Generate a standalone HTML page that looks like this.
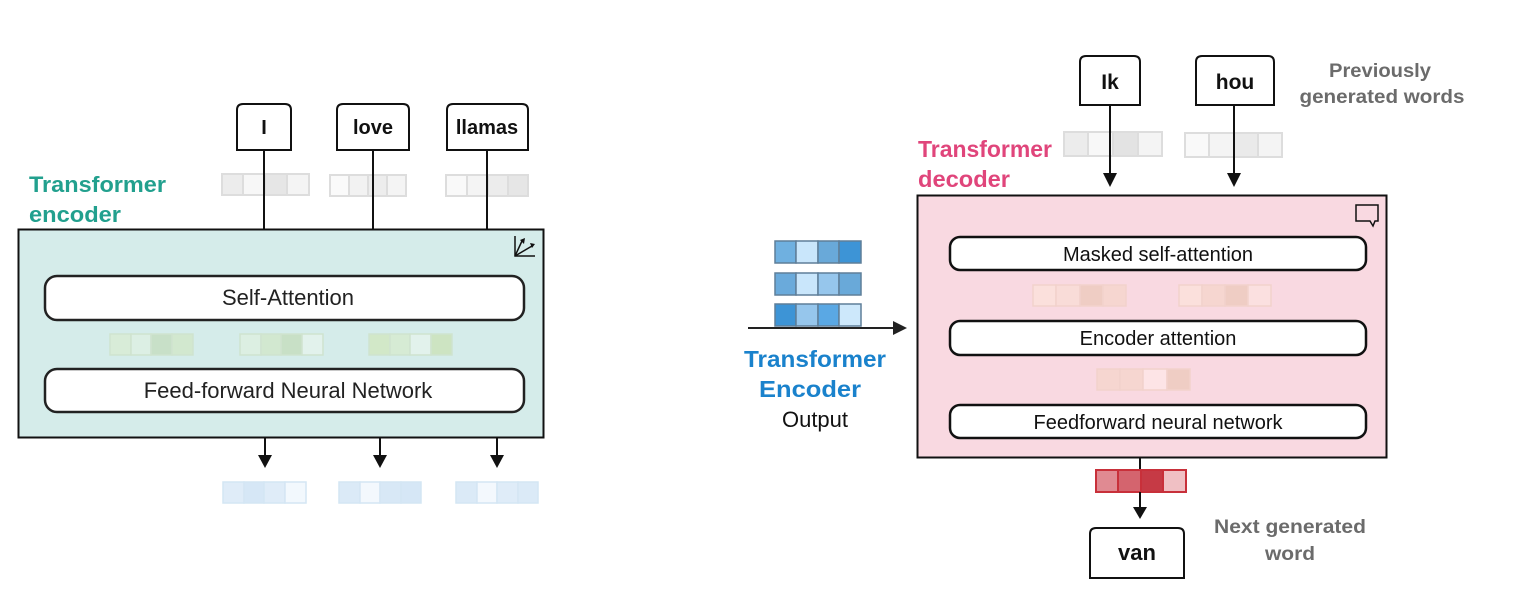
<!DOCTYPE html>
<html><head><meta charset="utf-8"><style>
html,body{margin:0;padding:0;background:#fff;}
svg{display:block;font-family:"Liberation Sans",sans-serif;}
</style></head><body>
<svg width="1514" height="614" viewBox="0 0 1514 614" xmlns="http://www.w3.org/2000/svg">

<!-- ENCODER -->
<rect x="18.5" y="229.5" width="525" height="208" fill="#d5ecea" stroke="#111" stroke-width="2"/>
<g stroke="#111" stroke-width="1.5" fill="none">
<path d="M515,236 L515,256 L535,256"/>
<path d="M515,256 L522,241"/><path d="M515,256 L532,246"/>
</g>
<path d="M520,240 L525,238 L524,244z M530,243 L535,244 L532,248z" fill="#111"/>

<g stroke="#ddd" stroke-width="2">
<rect x="222" y="174" width="21" height="21" fill="#ececec"/><rect x="243" y="174" width="22" height="21" fill="#f7f7f7"/><rect x="265" y="174" width="22" height="21" fill="#e6e6e6"/><rect x="287" y="174" width="22" height="21" fill="#f4f4f4"/>
<rect x="330" y="175" width="19" height="21" fill="#fafafa"/><rect x="349" y="175" width="19" height="21" fill="#f2f2f2"/><rect x="368" y="175" width="19" height="21" fill="#ededed"/><rect x="387" y="175" width="19" height="21" fill="#f4f4f4"/>
<rect x="446" y="175" width="21" height="21" fill="#f9f9f9"/><rect x="467" y="175" width="21" height="21" fill="#f4f4f4"/><rect x="488" y="175" width="20" height="21" fill="#ececec"/><rect x="508" y="175" width="20" height="21" fill="#e6e6e6"/>
</g>
<g stroke="#111" stroke-width="2">
<line x1="264" y1="150" x2="264" y2="229"/>
<line x1="373" y1="150" x2="373" y2="229"/>
<line x1="487" y1="150" x2="487" y2="229"/>
</g>
<g fill="#fff" stroke="#111" stroke-width="2">
<path d="M237,150 V110 Q237,104 243,104 H285 Q291,104 291,110 V150 Z"/>
<path d="M337,150 V110 Q337,104 343,104 H403 Q409,104 409,110 V150 Z"/>
<path d="M447,150 V110 Q447,104 453,104 H522 Q528,104 528,110 V150 Z"/>
</g>
<g font-size="20" font-weight="bold" fill="#111" text-anchor="middle">
<text x="264" y="134">I</text>
<text x="373" y="134">love</text>
<text x="487" y="134">llamas</text>
</g>
<g font-size="22" font-weight="bold" fill="#22a08e">
<text x="29" y="192" textLength="137" lengthAdjust="spacingAndGlyphs">Transformer</text>
<text x="29" y="222" textLength="92" lengthAdjust="spacingAndGlyphs">encoder</text>
</g>
<rect x="45" y="276" width="479" height="44" rx="12" fill="#fff" stroke="#222" stroke-width="2.5"/>
<text x="288" y="305" font-size="22" text-anchor="middle" fill="#222">Self-Attention</text>
<rect x="45" y="369" width="479" height="43" rx="12" fill="#fff" stroke="#222" stroke-width="2.5"/>
<text x="288" y="398" font-size="22" text-anchor="middle" fill="#222">Feed-forward Neural Network</text>
<g stroke="#cfe3cf" stroke-width="1.5">
<rect x="110" y="334" width="21" height="21" fill="#d8ecd8"/><rect x="131" y="334" width="20" height="21" fill="#dcefe4"/><rect x="151" y="334" width="21" height="21" fill="#c8e0c8"/><rect x="172" y="334" width="21" height="21" fill="#d2e8cf"/>
<rect x="240" y="334" width="21" height="21" fill="#dcefe2"/><rect x="261" y="334" width="20" height="21" fill="#d2e8d0"/><rect x="281" y="334" width="21" height="21" fill="#c8e0c6"/><rect x="302" y="334" width="21" height="21" fill="#e2f2ec"/>
<rect x="369" y="334" width="21" height="21" fill="#d2e8c8"/><rect x="390" y="334" width="20" height="21" fill="#d6ebd4"/><rect x="410" y="334" width="21" height="21" fill="#e2f2ec"/><rect x="431" y="334" width="21" height="21" fill="#cde4c2"/>
</g>
<g stroke="#111" stroke-width="2">
<line x1="265" y1="437" x2="265" y2="458"/>
<line x1="380" y1="437" x2="380" y2="458"/>
<line x1="497" y1="437" x2="497" y2="458"/>
</g>
<g fill="#111">
<path d="M258,455 L272,455 L265,468z"/><path d="M373,455 L387,455 L380,468z"/><path d="M490,455 L504,455 L497,468z"/>
</g>
<g stroke="#d4e6f4" stroke-width="1.5">
<rect x="223" y="482" width="21" height="21" fill="#dfecf8"/><rect x="244" y="482" width="20" height="21" fill="#d6e7f6"/><rect x="264" y="482" width="21" height="21" fill="#dfecf8"/><rect x="285" y="482" width="21" height="21" fill="#f2f8fd"/>
<rect x="339" y="482" width="21" height="21" fill="#dbeaf7"/><rect x="360" y="482" width="20" height="21" fill="#f3f8fd"/><rect x="380" y="482" width="21" height="21" fill="#d8e8f6"/><rect x="401" y="482" width="20" height="21" fill="#d6e7f6"/>
<rect x="456" y="482" width="21" height="21" fill="#dbeaf7"/><rect x="477" y="482" width="20" height="21" fill="#f3f8fd"/><rect x="497" y="482" width="21" height="21" fill="#dfecf8"/><rect x="518" y="482" width="20" height="21" fill="#dbeaf7"/>
</g>

<!-- LEFT INPUT -->
<g stroke="#5f7f99" stroke-width="1.5">
<rect x="775" y="241" width="21" height="22" fill="#6fb0e0"/><rect x="796" y="241" width="22" height="22" fill="#c9e6fb"/><rect x="818" y="241" width="21" height="22" fill="#69a9d9"/><rect x="839" y="241" width="22" height="22" fill="#3d94d6"/>
<rect x="775" y="273" width="21" height="22" fill="#6aaadb"/><rect x="796" y="273" width="22" height="22" fill="#c9e6fb"/><rect x="818" y="273" width="21" height="22" fill="#96c6ec"/><rect x="839" y="273" width="22" height="22" fill="#69a9d9"/>
<rect x="775" y="304" width="21" height="22" fill="#3d94d6"/><rect x="796" y="304" width="22" height="22" fill="#96c6ec"/><rect x="818" y="304" width="21" height="22" fill="#5aa8e4"/><rect x="839" y="304" width="22" height="22" fill="#cde8fb"/>
</g>
<line x1="748" y1="328" x2="895" y2="328" stroke="#222" stroke-width="2"/>
<path d="M893,321 L907,328 L893,335z" fill="#222"/>
<g font-size="23" font-weight="bold" fill="#1a82cc" text-anchor="middle">
<text x="815" y="367" textLength="142" lengthAdjust="spacingAndGlyphs">Transformer</text>
<text x="810" y="397" textLength="102" lengthAdjust="spacingAndGlyphs">Encoder</text>
</g>
<text x="815" y="427" font-size="22" fill="#111" text-anchor="middle">Output</text>

<!-- DECODER -->
<rect x="917.5" y="195.5" width="469" height="262" fill="#f9d9e1" stroke="#111" stroke-width="2"/>
<path d="M1356,205 H1378 V221 H1375 L1373,226 L1370,221 H1356 Z" fill="none" stroke="#111" stroke-width="1.5"/>
<g font-size="23" font-weight="bold" fill="#e0457b">
<text x="918" y="157" textLength="134" lengthAdjust="spacingAndGlyphs">Transformer</text>
<text x="918" y="187" textLength="92" lengthAdjust="spacingAndGlyphs">decoder</text>
</g>
<g stroke="#ddd" stroke-width="2">
<rect x="1064" y="132" width="24" height="24" fill="#ececec"/><rect x="1088" y="132" width="25" height="24" fill="#f8f8f8"/><rect x="1113" y="132" width="25" height="24" fill="#e3e3e3"/><rect x="1138" y="132" width="24" height="24" fill="#f4f4f4"/>
<rect x="1185" y="133" width="24" height="24" fill="#f9f9f9"/><rect x="1209" y="133" width="25" height="24" fill="#f4f4f4"/><rect x="1234" y="133" width="24" height="24" fill="#eaeaea"/><rect x="1258" y="133" width="24" height="24" fill="#f4f4f4"/>
</g>
<g stroke="#111" stroke-width="2">
<line x1="1110" y1="105" x2="1110" y2="176"/>
<line x1="1234" y1="105" x2="1234" y2="176"/>
</g>
<path d="M1103,173 L1117,173 L1110,187z M1227,173 L1241,173 L1234,187z" fill="#111"/>
<g fill="#fff" stroke="#111" stroke-width="2">
<path d="M1080,105 V62 Q1080,56 1086,56 H1134 Q1140,56 1140,62 V105 Z"/>
<path d="M1196,105 V62 Q1196,56 1202,56 H1268 Q1274,56 1274,62 V105 Z"/>
</g>
<g font-size="21" font-weight="bold" fill="#111" text-anchor="middle">
<text x="1110" y="89">Ik</text>
<text x="1235" y="89">hou</text>
</g>
<g font-size="19" font-weight="bold" fill="#6b6b6b" text-anchor="middle">
<text x="1380" y="77" textLength="102" lengthAdjust="spacingAndGlyphs">Previously</text>
<text x="1382" y="103" textLength="165" lengthAdjust="spacingAndGlyphs">generated words</text>
<text x="1290" y="533" textLength="152" lengthAdjust="spacingAndGlyphs">Next generated</text>
<text x="1290" y="560" textLength="50" lengthAdjust="spacingAndGlyphs">word</text>
</g>
<rect x="950" y="237" width="416" height="33" rx="10" fill="#fff" stroke="#111" stroke-width="2.5"/>
<text x="1158" y="261" font-size="20" text-anchor="middle" fill="#111">Masked self-attention</text>
<rect x="950" y="321" width="416" height="34" rx="10" fill="#fff" stroke="#111" stroke-width="2.5"/>
<text x="1158" y="345" font-size="20" text-anchor="middle" fill="#111">Encoder attention</text>
<rect x="950" y="405" width="416" height="33" rx="10" fill="#fff" stroke="#111" stroke-width="2.5"/>
<text x="1158" y="429" font-size="20" text-anchor="middle" fill="#111">Feedforward neural network</text>
<g stroke="#f2d2cc" stroke-width="1.5">
<rect x="1033" y="285" width="23" height="21" fill="#fbe0dc"/><rect x="1056" y="285" width="24" height="21" fill="#f9dcd8"/><rect x="1080" y="285" width="23" height="21" fill="#efcdc4"/><rect x="1103" y="285" width="23" height="21" fill="#f6d6d0"/>
<rect x="1179" y="285" width="23" height="21" fill="#fbe0dc"/><rect x="1202" y="285" width="23" height="21" fill="#f6d6d0"/><rect x="1225" y="285" width="23" height="21" fill="#efcdc4"/><rect x="1248" y="285" width="23" height="21" fill="#fbe0e0"/>
<rect x="1097" y="369" width="23" height="21" fill="#f6d6d0"/><rect x="1120" y="369" width="23" height="21" fill="#f6d6d0"/><rect x="1143" y="369" width="24" height="21" fill="#fde4e6"/><rect x="1167" y="369" width="23" height="21" fill="#efcdc4"/>
</g>
<line x1="1140" y1="458" x2="1140" y2="510" stroke="#111" stroke-width="2"/>
<g stroke="#c8303a" stroke-width="2">
<rect x="1096" y="470" width="22" height="22" fill="#e08a92"/><rect x="1118" y="470" width="23" height="22" fill="#d4646e"/><rect x="1141" y="470" width="22" height="22" fill="#c63a45"/><rect x="1163" y="470" width="23" height="22" fill="#f0c0c4"/>
</g>
<line x1="1140" y1="492" x2="1140" y2="510" stroke="#111" stroke-width="2"/>
<path d="M1133,507 L1147,507 L1140,519z" fill="#111"/>
<path d="M1090,578 V534 Q1090,528 1096,528 H1178 Q1184,528 1184,534 V578 Z" fill="#fff" stroke="#111" stroke-width="2"/>
<text x="1137" y="560" font-size="22" font-weight="bold" text-anchor="middle" fill="#111">van</text>
</svg>
</body></html>
